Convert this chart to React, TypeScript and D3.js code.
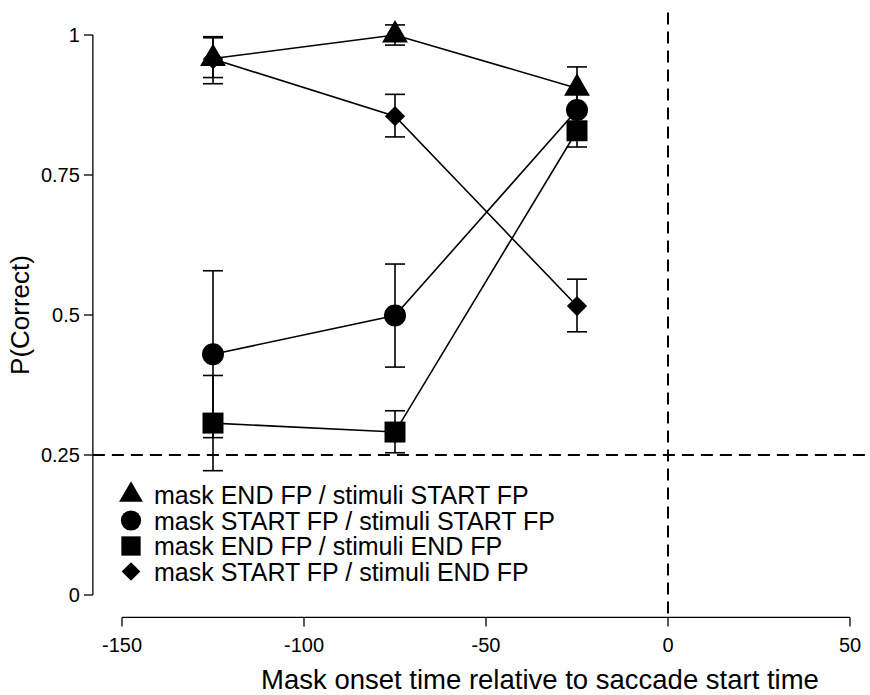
import React, { useEffect, useRef } from 'react';
import * as d3 from 'd3';

// mask onset times (ms) relative to saccade start
const onsets = [-125, -75, -25];

const seriesNames = [
  'mask END FP / stimuli START FP',
  'mask START FP / stimuli START FP',
  'mask END FP / stimuli END FP',
  'mask START FP / stimuli END FP',
];
const seriesShapes = ['triangle', 'circle', 'square', 'diamond'];

// P(correct) per series, with lower / upper error bar ends
const endStartMean = [0.958, 1.0, 0.905];
const endStartLo = [0.924, 0.982, 0.867];
const endStartHi = [0.995, 1.018, 0.943];

const startStartMean = [0.43, 0.499, 0.866];
const startStartLo = [0.281, 0.407, 0.836];
const startStartHi = [0.579, 0.591, 0.896];

const endEndMean = [0.307, 0.291, 0.829];
const endEndLo = [0.222, 0.254, 0.8];
const endEndHi = [0.392, 0.329, 0.858];

const startEndMean = [0.957, 0.855, 0.516];
const startEndLo = [0.913, 0.818, 0.47];
const startEndHi = [0.997, 0.894, 0.564];

const xTicks = [-150, -100, -50, 0, 50];
const yTicks = [0, 0.25, 0.5, 0.75, 1];
const yTickLabels = ['0', '0.25', '0.5', '0.75', '1'];
const chanceLevel = 0.25;
const saccadeStart = 0;

const means = [endStartMean, startStartMean, endEndMean, startEndMean];
const los = [endStartLo, startStartLo, endEndLo, startEndLo];
const his = [endStartHi, startStartHi, endEndHi, startEndHi];

const FONT = '"Liberation Sans", Arial, Helvetica, sans-serif';

function shapePath(shape: string, scale: number) {
  if (shape === 'triangle') return d3.symbol(d3.symbolTriangle, 290 * scale * scale)();
  if (shape === 'circle') return d3.symbol(d3.symbolCircle, 380 * scale * scale)();
  if (shape === 'square') return d3.symbol(d3.symbolSquare, 440 * scale * scale)();
  return d3.symbol(d3.symbolSquare, 205 * scale * scale)();
}

export default function App() {
  const ref = useRef<SVGSVGElement>(null);

  useEffect(() => {
    const svg = d3.select(ref.current);
    svg.selectAll('*').remove();

    // R-style: plot region extends 4% past the data ranges
    const x = d3.scaleLinear().domain([-150, 50]).range([122, 850]);
    const y = d3.scaleLinear().domain([0, 1]).range([595, 35]);
    const xLeft = x(-158);
    const xRight = x(58);
    const yTop = y(1.04);
    const yBottom = y(-0.04);

    // reference lines
    svg.append('line')
      .attr('x1', xLeft).attr('x2', xRight)
      .attr('y1', y(chanceLevel)).attr('y2', y(chanceLevel))
      .attr('stroke', '#000').attr('stroke-width', 2)
      .attr('stroke-dasharray', '12,7');
    svg.append('line')
      .attr('x1', x(saccadeStart)).attr('x2', x(saccadeStart))
      .attr('y1', yTop).attr('y2', yBottom)
      .attr('stroke', '#000').attr('stroke-width', 2)
      .attr('stroke-dasharray', '12,7');

    // x axis
    const xAxis = svg.append('g').attr('transform', `translate(0,${yBottom})`);
    xAxis.append('line')
      .attr('x1', x(xTicks[0])).attr('x2', x(xTicks[xTicks.length - 1]))
      .attr('stroke', '#000').attr('stroke-width', 1.3);
    xTicks.forEach(t => {
      xAxis.append('line')
        .attr('x1', x(t)).attr('x2', x(t)).attr('y1', 0).attr('y2', 9)
        .attr('stroke', '#000').attr('stroke-width', 1.3);
      xAxis.append('text')
        .attr('x', x(t)).attr('y', 35)
        .attr('text-anchor', 'middle')
        .attr('font-family', FONT).attr('font-size', 20)
        .text(String(t));
    });

    // y axis
    const yAxis = svg.append('g').attr('transform', `translate(${xLeft},0)`);
    yAxis.append('line')
      .attr('y1', y(yTicks[0])).attr('y2', y(yTicks[yTicks.length - 1]))
      .attr('stroke', '#000').attr('stroke-width', 1.3);
    yTicks.forEach((t, i) => {
      yAxis.append('line')
        .attr('x1', -9).attr('x2', 0).attr('y1', y(t)).attr('y2', y(t))
        .attr('stroke', '#000').attr('stroke-width', 1.3);
      yAxis.append('text')
        .attr('x', -13).attr('y', y(t) + 7)
        .attr('text-anchor', 'end')
        .attr('font-family', FONT).attr('font-size', 20)
        .text(yTickLabels[i]);
    });

    // axis titles
    svg.append('text')
      .attr('x', 540).attr('y', 689)
      .attr('text-anchor', 'middle')
      .attr('font-family', FONT).attr('font-size', 27.5)
      .text('Mask onset time relative to saccade start time');
    svg.append('text')
      .attr('transform', `translate(29,${(yTop + yBottom) / 2}) rotate(-90)`)
      .attr('text-anchor', 'middle')
      .attr('font-family', FONT).attr('font-size', 26)
      .text('P(Correct)');

    // connecting lines
    const line = d3.line<number>().x((_, i) => x(onsets[i])).y(d => y(d));
    means.forEach(m => {
      svg.append('path')
        .attr('d', line(m))
        .attr('fill', 'none').attr('stroke', '#000').attr('stroke-width', 1.6);
    });

    // error bars
    means.forEach((m, s) => {
      onsets.forEach((o, i) => {
        const cx = x(o);
        const g = svg.append('g').attr('stroke', '#000').attr('stroke-width', 1.6);
        g.append('line').attr('x1', cx).attr('x2', cx)
          .attr('y1', y(los[s][i])).attr('y2', y(his[s][i]));
        [los[s][i], his[s][i]].forEach(v => {
          g.append('line').attr('x1', cx - 10).attr('x2', cx + 10)
            .attr('y1', y(v)).attr('y2', y(v));
        });
      });
    });

    // markers
    means.forEach((m, s) => {
      m.forEach((v, i) => {
        const rot = seriesShapes[s] === 'diamond' ? ' rotate(45)' : '';
        svg.append('path')
          .attr('d', shapePath(seriesShapes[s], 1))
          .attr('transform', `translate(${x(onsets[i])},${y(v)})${rot}`)
          .attr('fill', '#000');
      });
    });

    // legend
    const legend = svg.append('g');
    seriesNames.forEach((name, s) => {
      const ly = 495 + s * 25.5;
      const rot = seriesShapes[s] === 'diamond' ? ' rotate(45)' : '';
      legend.append('path')
        .attr('d', shapePath(seriesShapes[s], 0.92))
        .attr('transform', `translate(131,${ly})${rot}`)
        .attr('fill', '#000');
      legend.append('text')
        .attr('x', 154).attr('y', ly + 9)
        .attr('font-family', FONT).attr('font-size', 25)
        .text(name);
    });
  }, []);

  return (
    <svg
      ref={ref}
      width={870}
      height={695}
      style={{ position: 'absolute', left: 0, top: 0, background: '#fff' }}
    />
  );
}
